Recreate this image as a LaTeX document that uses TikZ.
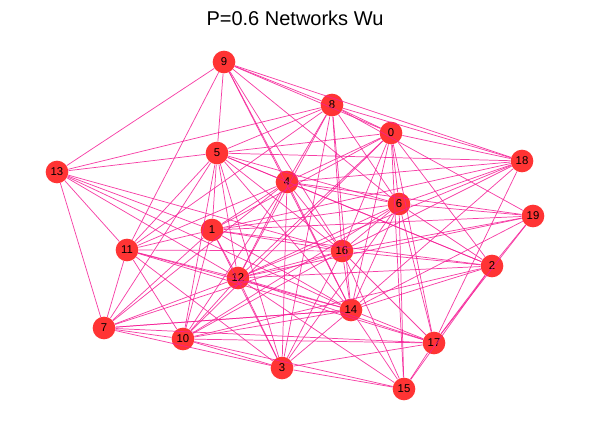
\documentclass[tikz,border=0pt]{standalone}
\usepackage{fontspec}
\setmainfont{Liberation Sans}
\definecolor{nodered}{RGB}{255,35,35}
\definecolor{edgepink}{RGB}{245,30,150}
\tikzset{
  vert/.style={circle,fill=nodered,fill opacity=0.92,text opacity=1,draw=none,minimum size=17pt,inner sep=0pt,font=\fontsize{8.5}{8.5}\selectfont},
  link/.style={draw=edgepink,line width=0.55pt,draw opacity=0.85}
}
\begin{document}
\begin{tikzpicture}[x=0.75pt,y=0.75pt,yscale=-1]
\useasboundingbox (0,0) rectangle (590,431);

% Title
\node (title) at (295,18) {\fontsize{15}{15}\selectfont P=0.6 Networks Wu};

% Vertices
\node [vert] (n0) at (391,133) {0};
\node [vert] (n1) at (212,230) {1};
\node [vert] (n2) at (492,266) {2};
\node [vert] (n3) at (282,368) {3};
\node [vert] (n4) at (287,182) {4};
\node [vert] (n5) at (217,153) {5};
\node [vert] (n6) at (399,204) {6};
\node [vert] (n7) at (104,328) {7};
\node [vert] (n8) at (332,105) {8};
\node [vert] (n9) at (224,62) {9};
\node [vert] (n10) at (183,339) {10};
\node [vert] (n11) at (127,250) {11};
\node [vert] (n12) at (238,278) {12};
\node [vert] (n13) at (57,172) {13};
\node [vert] (n14) at (351,310) {14};
\node [vert] (n15) at (404,389) {15};
\node [vert] (n16) at (342,251) {16};
\node [vert] (n17) at (434,343) {17};
\node [vert] (n18) at (522,161) {18};
\node [vert] (n19) at (533,216) {19};

% Edges
\foreach \a/\b in {9/13,9/11,9/5,9/8,9/18,9/0,9/4,9/16,9/14,9/6,
  8/13,8/5,8/0,8/4,8/16,8/14,8/18,8/19,8/11,8/12,8/6,8/3,
  0/5,0/4,0/18,0/6,0/16,0/14,0/17,0/15,0/12,0/1,0/2,0/10,
  5/13,5/11,5/1,5/12,5/10,5/7,5/4,5/16,5/14,5/6,5/3,5/2,5/18,
  4/1,4/11,4/12,4/10,4/7,4/16,4/14,4/6,4/2,4/18,4/19,4/3,
  6/18,6/19,6/1,6/12,6/16,6/14,6/17,6/2,6/15,6/3,6/10,
  18/1,18/16,18/12,18/14,18/17,
  19/1,19/16,19/14,19/12,19/2,19/17,
  13/11,13/7,13/1,13/12,13/16,13/14,
  11/1,11/12,11/16,11/14,11/7,11/10,11/3,11/17,
  1/16,1/2,1/12,1/7,1/10,1/3,1/14,
  12/16,12/14,12/7,12/10,12/3,12/17,12/15,12/2,
  16/14,16/2,16/7,16/10,16/3,16/17,16/15,
  14/2,14/7,14/10,14/3,14/17,14/15,
  2/17,2/15,2/10,
  7/10,7/17,7/14,7/3,
  10/3,10/17,10/15,
  3/15,3/17,
  17/15}
  \draw [link] (n\a) -- (n\b);
\end{tikzpicture}
\end{document}
